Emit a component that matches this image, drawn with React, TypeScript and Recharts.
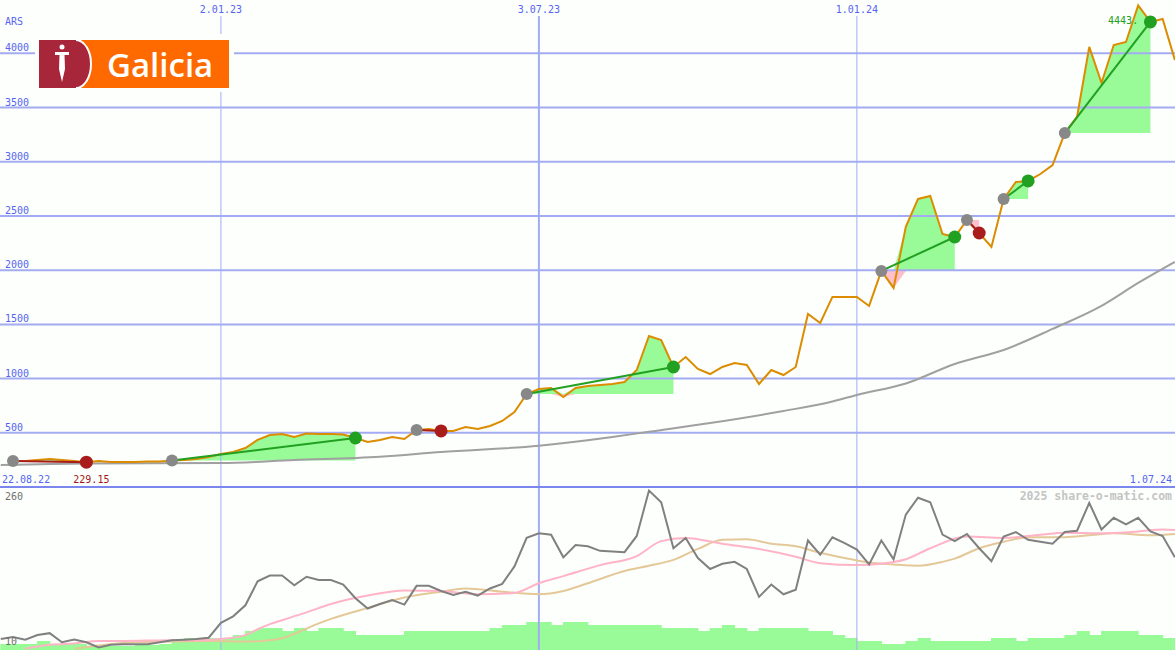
import React from "react";
import {
  ComposedChart,
  Line,
  Area,
  Bar,
  Scatter,
  XAxis,
  YAxis,
  ReferenceLine,
  ReferenceDot,
} from "recharts";

const W = 1175;
const BG = "#fcfffc";
const MONO = "'DejaVu Sans Mono', monospace";
const BLUE_TEXT = "#5565f0";
const GRID = "#a3acf3";
const X_DOMAIN = [-1.063, 95.01];

// weekly closes in ARS, week 0 is the first buy signal
const closes = [
  240, 240, 249, 258, 249, 240, 229.15, 240, 231, 231,
  231, 235, 235, 244, 249, 258, 277, 304, 323, 360,
  434, 480, 489, 461, 494, 489, 489, 484, 452, 415,
  434, 461, 443, 526, 535, 517, 517, 554, 535, 563,
  609, 692, 858, 904, 913, 830, 913, 932, 941, 950,
  969, 1079, 1393, 1356, 1107, 1199, 1089, 1042, 1107, 1144,
  1125, 950, 1079, 1033, 1107, 1596, 1513, 1753, 1753, 1753,
  1670, 1993, 1836, 2399, 2657, 2684, 2334, 2306, 2463, 2343,
  2214, 2657, 2814, 2823, 2887, 2970, 3265, 3413, 4059, 3727,
  4077, 4105, 4443, 4290, 4317, 3939,
];

// [buy week, sell week]
const signals = [
  [0, 6], [13, 28], [33, 35], [42, 54], [71, 77], [78, 79], [81, 83], [86, 93],
];

// long moving average, read at these weeks
const avgWeeks = [-1, 6, 17, 23, 30, 35, 43, 49, 52, 57, 63, 67, 69, 73, 77, 81, 85, 89, 92, 95];
const avgValues = [203, 217, 221, 249, 280, 323, 381, 461, 510, 590, 701, 789, 849, 955, 1135, 1264, 1458, 1670, 1882, 2076];

const priceTicks = [500, 1000, 1500, 2000, 2500, 3000, 3500, 4000];
const dateWeeks = [17, 43, 69];
const dateLabels = ["2.01.23", "3.07.23", "1.01.24"];
const firstDate = "22.08.22";
const lastDate = "1.07.24";

// lower panel oscillator, starts at week -1
const oscStart = -1;
const oscillator = [
  27, 30, 26, 33, 36, 22, 26, 22, 14, 18, 19,
  19, 19, 22, 25, 26, 27, 29, 52, 62, 79,
  116, 125, 125, 110, 123, 118, 118, 111, 90, 74,
  81, 87, 80, 109, 109, 101, 95, 100, 94, 105,
  112, 139, 183, 190, 188, 153, 172, 170, 163, 162,
  161, 186, 256, 238, 167, 183, 152, 135, 143, 146,
  135, 92, 111, 96, 103, 179, 157, 184, 175, 165,
  142, 179, 150, 219, 245, 238, 188, 178, 189, 167,
  147, 185, 192, 180, 177, 174, 192, 194, 237, 196,
  214, 204, 214, 193, 186, 153,
];

const fastWeeks = [1, 3, 5, 7, 9, 13, 15, 17, 19, 20, 21, 22, 24, 26, 29, 32, 35, 38, 41, 43, 45, 48, 51, 53, 55, 58, 61, 64, 66, 69, 71, 73, 75, 78, 81, 84, 86, 89, 92, 94, 95];
const fastValues = [12, 18, 20, 24, 24, 25, 25, 27, 33, 42, 50, 56, 68, 81, 94, 102, 101, 96, 98, 113, 124, 141, 155, 178, 183, 174, 166, 154, 144, 141, 143, 150, 167, 185, 183, 188, 191, 190, 193, 196, 195];

const slowWeeks = [5, 7, 10, 13, 16, 19, 21, 22, 23, 25, 26, 29, 32, 35, 37, 40, 43, 45, 47, 50, 52, 54, 56, 58, 60, 62, 64, 66, 68, 70, 72, 74, 76, 77, 79, 81, 83, 86, 88, 90, 93, 95];
const slowValues = [12, 17, 22, 23, 24, 23, 25, 28, 35, 51, 58, 75, 91, 100, 105, 100, 96, 101, 113, 132, 140, 149, 166, 180, 181, 174, 170, 160, 152, 145, 142, 140, 146, 151, 167, 177, 184, 184, 187, 190, 187, 189];

// weekly volume, bars for weeks -1 .. 94
const volStart = -1;
const volume = [
  6, 6, 6, 9, 6, 6, 6, 4, 4, 4, 4,
  5, 5, 6, 8, 12, 12, 12, 12, 15, 19,
  22, 22, 19, 22, 19, 22, 22, 19, 15, 15,
  15, 15, 19, 19, 19, 19, 19, 19, 19, 22,
  25, 25, 28, 28, 25, 28, 28, 25, 25, 25,
  25, 25, 25, 22, 22, 22, 19, 22, 25, 22,
  19, 22, 22, 22, 22, 19, 19, 15, 12, 9,
  9, 6, 6, 9, 12, 9, 9, 9, 9, 9,
  12, 12, 9, 12, 12, 12, 15, 19, 15, 19,
  19, 19, 15, 15, 12,
];

const rows = closes.map((p, i) => {
  const r: Record<string, unknown> = { i, p };
  signals.forEach(([s, e], t) => {
    if (i < s || i > e) return;
    const base = closes[s];
    r[`g${t}`] = [base, Math.max(p, base)];
    r[`l${t}`] = [Math.min(p, base), base];
  });
  return r;
});

const avgData = avgWeeks.map((i, k) => ({ i, v: avgValues[k] }));
const buys = signals.map(([s]) => ({ i: s, v: closes[s] }));
const wins = signals.filter(([s, e]) => closes[e] >= closes[s]).map(([, e]) => ({ i: e, v: closes[e] }));
const losses = signals.filter(([s, e]) => closes[e] < closes[s]).map(([, e]) => ({ i: e, v: closes[e] }));
const maxWeek = closes.indexOf(Math.max(...closes));
const minWeek = closes.indexOf(Math.min(...closes));

const oscData = oscillator.map((v, k) => ({ x: k + oscStart, v }));
const fastData = fastWeeks.map((x, k) => ({ x, v: fastValues[k] }));
const slowData = slowWeeks.map((x, k) => ({ x, v: slowValues[k] }));
const volRows = volume.map((vol, k) => ({ x: k + volStart + 0.5, vol }));

const dot = (fill: string, r: number) => (props: any) => (
  <circle cx={props.cx} cy={props.cy} r={r} fill={fill} />
);

// bars fill the whole week, no gaps
const VolBar = (props: any) => (
  <rect x={props.x + props.width / 2 - 6.6} y={props.y} width={13.2} height={props.height} fill="#98fb98" />
);

const monoText = { fontFamily: MONO, fontSize: 10 };

function Logo() {
  return (
    <div style={{ position: "absolute", left: 35, top: 34, width: 199, height: 58, background: BG }}>
      <svg width={190} height={48} style={{ position: "absolute", left: 4, top: 6 }}>
        <rect width={190} height={48} fill="#fe6a00" />
        <path d="M0,0 H37 A15,24 0 0 1 37,48 H0 Z" fill="#a8263a" />
        <path d="M37,0 A15,24 0 0 1 37,48" fill="none" stroke="#fff" strokeWidth={2} />
        <circle cx={23} cy={7} r={2.5} fill="#fff" />
        <rect x={16} y={12} width={14} height={3} fill="#fff" />
        <polygon points="20.5,15 25.5,15 26,29 23,42 20,29" fill="#fff" />
        <text x={68} y={37} fill="#fff" fontFamily="'Open Sans', sans-serif" fontWeight={600} fontSize={33}>
          Galicia
        </text>
      </svg>
    </div>
  );
}

export default function App() {
  return (
    <div style={{ position: "absolute", left: 0, top: 0, width: W, height: 650, background: BG, overflow: "hidden" }}>
      <ComposedChart width={W} height={488} data={rows} margin={{ top: 0, right: 0, bottom: 1, left: 0 }}>
        <XAxis type="number" dataKey="i" domain={X_DOMAIN} hide allowDataOverflow />
        <YAxis type="number" domain={[0, 4492]} hide allowDataOverflow />
        {signals.map((_, t) => (
          <Area key={`g${t}`} dataKey={`g${t}`} type="linear" stroke="none" fill="#98fb98" fillOpacity={1} activeDot={false} isAnimationActive={false} />
        ))}
        {signals.map((_, t) => (
          <Area key={`l${t}`} dataKey={`l${t}`} type="linear" stroke="none" fill="#ffc0cb" fillOpacity={1} activeDot={false} isAnimationActive={false} />
        ))}
        {priceTicks.map((v) => (
          <ReferenceLine
            key={v}
            y={v}
            stroke={GRID}
            strokeWidth={2}
            label={(props: any) => (
              <text x={5} y={props.viewBox.y - 2} fill={BLUE_TEXT} {...monoText}>
                {v}
              </text>
            )}
          />
        ))}
        {dateWeeks.map((d, k) => (
          <ReferenceLine
            key={d}
            segment={[{ x: d, y: 4345 }, { x: d, y: 0 }]}
            stroke={GRID}
            strokeWidth={k === 1 ? 2 : 1}
            label={(props: any) => (
              <text x={props.viewBox.x} y={13} textAnchor="middle" fill={BLUE_TEXT} {...monoText}>
                {dateLabels[k]}
              </text>
            )}
          />
        ))}
        <ReferenceLine
          y={4492}
          stroke="none"
          label={() => (
            <text x={5} y={25} fill={BLUE_TEXT} {...monoText}>
              ARS
            </text>
          )}
        />
        <ReferenceLine
          y={0}
          stroke="#7b87ee"
          strokeWidth={2}
          label={(props: any) => (
            <g>
              <text x={2} y={props.viewBox.y - 4} fill={BLUE_TEXT} {...monoText}>
                {firstDate}
              </text>
              <text x={W - 3} y={props.viewBox.y - 4} textAnchor="end" fill={BLUE_TEXT} {...monoText}>
                {lastDate}
              </text>
            </g>
          )}
        />
        <Line data={avgData} dataKey="v" type="monotone" stroke="#a0a0a0" strokeWidth={2} dot={false} activeDot={false} isAnimationActive={false} />
        <Line dataKey="p" type="linear" stroke="#dc8c00" strokeWidth={2} dot={false} activeDot={false} isAnimationActive={false} />
        {signals.map(([s, e]) => (
          <Line
            key={`t${s}`}
            data={[{ i: s, v: closes[s] }, { i: e, v: closes[e] }]}
            dataKey="v"
            type="linear"
            stroke={closes[e] >= closes[s] ? "#22a022" : "#a81c1c"}
            strokeWidth={2}
            dot={false}
            activeDot={false}
            isAnimationActive={false}
          />
        ))}
        <Scatter data={buys} dataKey="v" shape={dot("#888888", 6)} activeShape={dot("#888888", 6)} isAnimationActive={false} />
        <Scatter data={wins} dataKey="v" shape={dot("#22a022", 6.5)} activeShape={dot("#22a022", 6.5)} isAnimationActive={false} />
        <Scatter data={losses} dataKey="v" shape={dot("#a81c1c", 6.5)} activeShape={dot("#a81c1c", 6.5)} isAnimationActive={false} />
        <ReferenceDot
          x={maxWeek}
          y={closes[maxWeek]}
          r={0}
          stroke="none"
          label={(props: any) => (
            <text x={props.viewBox.x} y={props.viewBox.y + 19} textAnchor="end" fill="#22a022" {...monoText}>
              {Math.round(closes[maxWeek])}.
            </text>
          )}
        />
        <ReferenceDot
          x={minWeek}
          y={closes[minWeek]}
          r={0}
          stroke="none"
          label={(props: any) => (
            <text x={props.viewBox.x + 5} y={props.viewBox.y + 21} textAnchor="middle" fill="#a01818" {...monoText}>
              {closes[minWeek].toFixed(2)}
            </text>
          )}
        />
      </ComposedChart>

      <ComposedChart width={W} height={162} data={volRows} margin={{ top: 0, right: 0, bottom: 0, left: 0 }}>
        <XAxis type="number" dataKey="x" domain={X_DOMAIN} hide allowDataOverflow />
        <YAxis yAxisId="osc" type="number" domain={[10, 260]} hide allowDataOverflow />
        <YAxis yAxisId="vol" type="number" domain={[0, 162]} hide />
        {dateWeeks.map((d, k) => (
          <ReferenceLine key={d} yAxisId="osc" x={d} stroke={GRID} strokeWidth={k === 1 ? 2 : 1} />
        ))}
        <Bar yAxisId="vol" dataKey="vol" shape={VolBar} activeBar={false} isAnimationActive={false} />
        <Line yAxisId="osc" data={slowData} dataKey="v" type="monotone" stroke="#e4c898" strokeWidth={2} dot={false} activeDot={false} isAnimationActive={false} />
        <Line yAxisId="osc" data={fastData} dataKey="v" type="monotone" stroke="#ffb3c6" strokeWidth={2} dot={false} activeDot={false} isAnimationActive={false} />
        <Line yAxisId="osc" data={oscData} dataKey="v" type="linear" stroke="#808080" strokeWidth={2} dot={false} activeDot={false} isAnimationActive={false} />
        <ReferenceLine
          yAxisId="osc"
          y={260}
          stroke="none"
          label={(props: any) => (
            <g>
              <text x={5} y={props.viewBox.y + 12} fill="#707070" {...monoText}>
                260
              </text>
              <text x={W - 3} y={props.viewBox.y + 12} textAnchor="end" fill="#c4c4c4" fontFamily={MONO} fontSize={11.5} fontWeight="bold">
                2025 share-o-matic.com
              </text>
            </g>
          )}
        />
        <ReferenceLine
          yAxisId="osc"
          y={10}
          stroke="none"
          label={(props: any) => (
            <text x={5} y={props.viewBox.y - 5} fill="#707070" {...monoText}>
              10
            </text>
          )}
        />
      </ComposedChart>
      <Logo />
    </div>
  );
}
